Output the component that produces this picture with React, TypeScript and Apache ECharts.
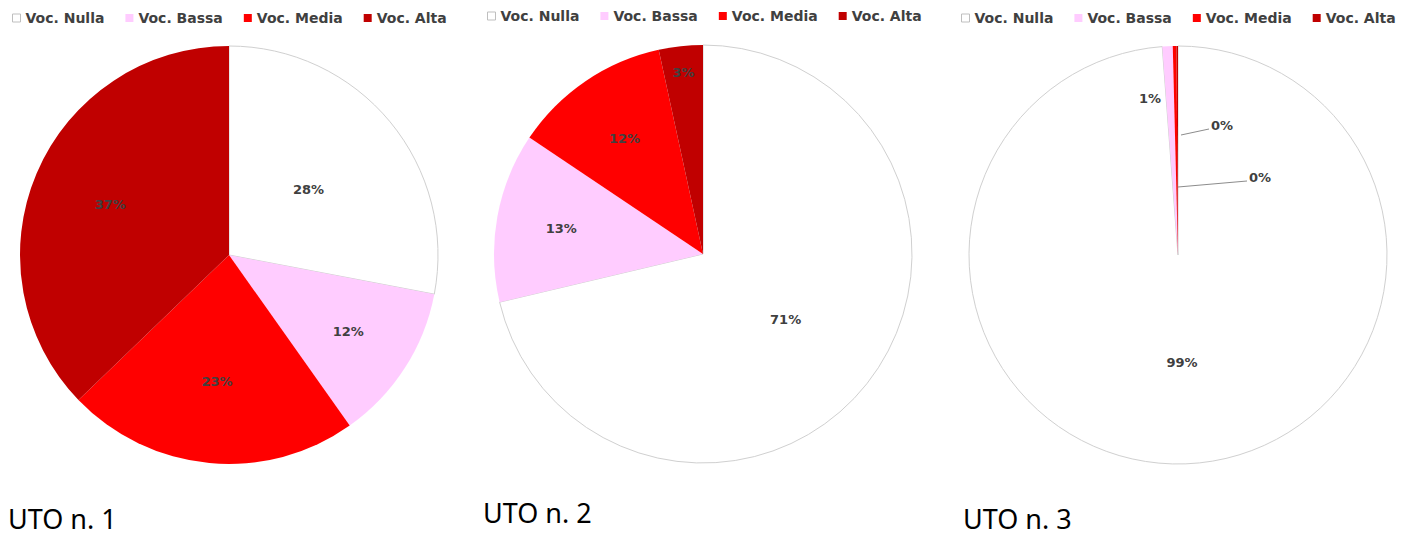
import React, { useEffect, useRef } from "react";
import * as echarts from "echarts";

const categories = ["Voc. Nulla", "Voc. Bassa", "Voc. Media", "Voc. Alta"];
const colors = ["#FFFFFF", "#FFCCFF", "#FF0000", "#C00000"];
const uto1 = [28.0, 12.2, 22.6, 37.2];
const uto2 = [71.3, 13.1, 12.2, 3.4];
const uto3 = [98.8, 0.8, 0.28, 0.12];
const titles = ["UTO n. 1", "UTO n. 2", "UTO n. 3"];

const centers: [number, number][] = [
  [229, 255],
  [703, 254],
  [1178, 255],
];
const R = 209;
// label distance from centre, as a fraction of the radius (pies 1 and 2)
const labelRadius = [
  [0.48, 0.66, 0.59, 0.6],
  [0.49, 0.67, 0.65, 0.85],
];
// manual label offsets (from the centre) for the tiny slices of pie 3
const pie3LabelPos: Record<number, [number, number, string]> = {
  1: [-28, -157, "center"],
  2: [33, -130, "left"],
  3: [71, -78, "left"],
};
// leader lines of pie 3 (offsets from the centre)
const pie3Leaders: [number, number][][] = [
  [
    [3, -120],
    [31, -126],
  ],
  [
    [0, -68],
    [69, -74],
  ],
];

function buildData(values: number[]) {
  return values.map((v, i) => ({
    name: categories[i],
    value: v,
    itemStyle:
      i === 0
        ? { color: colors[i], borderColor: "#d0d0d0", borderWidth: 1 }
        : { color: colors[i], borderWidth: 0 },
  }));
}

export default function App() {
  const ref = useRef<HTMLDivElement>(null);
  useEffect(() => {
    if (!ref.current) return;
    const chart = echarts.init(ref.current, null, { renderer: "svg" });
    const labelStyle = {
      show: true,
      position: "inside" as const,
      formatter: (p: any) => `${Math.round(p.percent)}%`,
      fontFamily: "DejaVu Sans",
      fontWeight: "bold" as const,
      fontSize: 13,
      color: "#404040",
    };
    const legendTops = [11, 9, 11];
    const legendLefts = [12, 487, 961];
    const seriesList = [uto1, uto2, uto3].map((vals, si) => {
      const data: any[] = buildData(vals);
      const layout =
        si === 2
          ? (params: any) => {
              const [cx, cy] = centers[2];
              const p = pie3LabelPos[params.dataIndex];
              if (!p) return {};
              return { x: cx + p[0], y: cy + p[1], align: p[2], verticalAlign: "middle" };
            }
          : (params: any) => {
              const [cx, cy] = centers[si];
              const lr = params.labelRect;
              const lx = lr.x + lr.width / 2;
              const ly = lr.y + lr.height / 2;
              const f = labelRadius[si][params.dataIndex] / 0.5;
              return {
                x: cx + (lx - cx) * f,
                y: cy + (ly - cy) * f,
                align: "center",
                verticalAlign: "middle",
              };
            };
      return {
        type: "pie",
        name: titles[si],
        center: centers[si],
        radius: R,
        startAngle: 90,
        clockwise: true,
        avoidLabelOverlap: false,
        percentPrecision: 1,
        label: labelStyle,
        labelLine: { show: false },
        emphasis: { disabled: true },
        data,
        labelLayout: layout,
      };
    });
    const [c3x, c3y] = centers[2];
    chart.setOption({
      animation: false,
      backgroundColor: "#ffffff",
      title: titles.map((t, i) => ({
        text: t,
        left: [8, 483, 963][i],
        top: [504, 498, 504][i],
        padding: 0,
        textStyle: {
          fontFamily: "Noto Sans",
          fontWeight: "normal",
          fontSize: 27,
          lineHeight: 28,
          color: "#000000",
        },
      })),
      legend: [0, 1, 2].map((li) => ({
        left: legendLefts[li],
        top: legendTops[li],
        orient: "horizontal",
        icon: "rect",
        itemWidth: 8,
        itemHeight: 8,
        itemGap: 21,
        selectedMode: false,
        padding: 0,
        textStyle: {
          fontFamily: "DejaVu Sans",
          fontWeight: "bold",
          fontSize: 14,
          color: "#404040",
        },
        data: categories.map((c, i) => ({
          name: c,
          itemStyle:
            i === 0
              ? { color: "#ffffff", borderColor: "#bfbfbf", borderWidth: 1 }
              : { color: colors[i], borderWidth: 0 },
        })),
      })),
      graphic: pie3Leaders.map((pts) => ({
        type: "polyline",
        z: 100,
        shape: { points: pts.map(([dx, dy]) => [c3x + dx, c3y + dy]) },
        style: { stroke: "#8c8c8c", lineWidth: 1, fill: "none" },
        silent: true,
      })),
      series: seriesList,
    });
    return () => chart.dispose();
  }, []);
  return (
    <div
      ref={ref}
      style={{ position: "fixed", left: 0, top: 0, width: 1404, height: 535 }}
    />
  );
}
